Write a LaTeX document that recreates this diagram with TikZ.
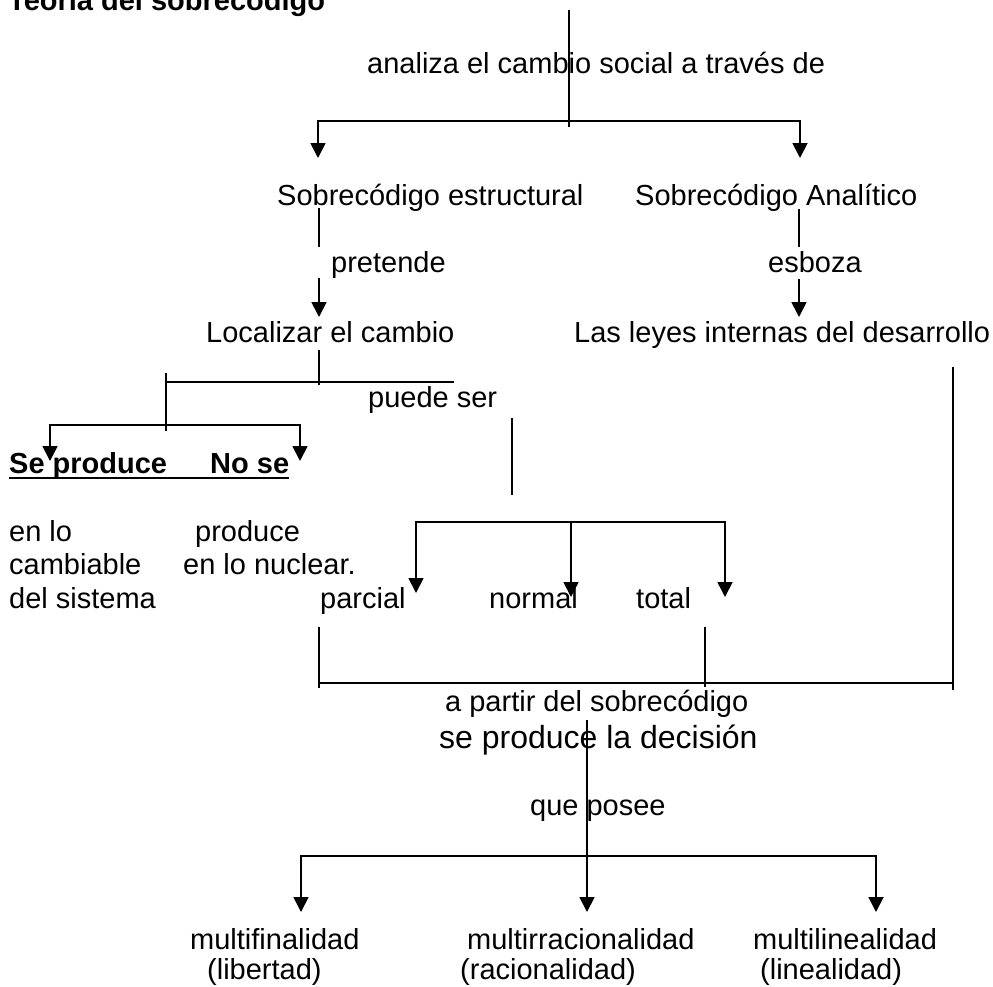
\documentclass[tikz,border=0pt]{standalone}
\usepackage{fontspec}
\setmainfont{Liberation Sans}
\usetikzlibrary{arrows.meta}
\begin{document}
\begin{tikzpicture}[x=1pt,y=-1pt,
  txt/.style={anchor=base west, inner sep=0pt, font=\fontsize{29}{34}\selectfont},
  txtb/.style={anchor=base west, inner sep=0pt, font=\bfseries\fontsize{29}{34}\selectfont},
  txtbig/.style={anchor=base west, inner sep=0pt, font=\fontsize{32}{36}\selectfont},
  ln/.style={line width=1.8pt},
  arr/.style={line width=1.8pt, -{Triangle[length=15pt,width=15pt]}}]
\useasboundingbox (0,0) rectangle (993,986);

% ---- texts ----
\node[txtb] (title) at (8,10) {Teoría del sobrecódigo};
\node[txt] (analiza) at (367,73) {analiza el cambio social a través de};
\node[txt] (sest) at (277,205) {Sobrecódigo estructural};
\node[txt] (sana) at (635,205) {Sobrecódigo Analítico};
\node[txt] (pret) at (331,272) {pretende};
\node[txt] (esb) at (768,272) {esboza};
\node[txt] (loc) at (206,342) {Localizar el cambio};
\node[txt] (leyes) at (574,342) {Las leyes internas del desarrollo};
\node[txt] (puede) at (368,407) {puede ser};
\node[txtb] (seprod) at (9,473) {\rlap{\rule[-6pt]{280pt}{2.5pt}}Se produce};
\node[txtb] (nose) at (210,473) {No se};
\node[txt] (enlo) at (9,541) {en lo};
\node[txt] (camb) at (9,574) {cambiable};
\node[txt] (delsis) at (9,608) {del sistema};
\node[txt] (produce) at (195,541) {produce};
\node[txt] (nuclear) at (183,574) {en lo nuclear.};
\node[txt] (parcial) at (320,608) {parcial};
\node[txt] (normal) at (489,608) {normal};
\node[txt] (total) at (636,608) {total};
\node[txt] (apartir) at (445,711) {a partir del sobrecódigo};
\node[txtbig] (decision) at (439,748) {se produce la decisión};
\node[txt] (posee) at (530,815) {que posee};
\node[txt] (mf) at (190,949) {multifinalidad};
\node[txt] (lib) at (207,979) {(libertad)};
\node[txt] (mr) at (467,949) {multirracionalidad};
\node[txt] (rac) at (460,979) {(racionalidad)};
\node[txt] (ml) at (753,949) {multilinealidad};
\node[txt] (lin) at (760,979) {(linealidad)};

% ---- coordinates ----
\coordinate (top0) at (569,10);
\coordinate (top1) at (569,127);
\coordinate (h1c) at (569,121);
\coordinate (h1l) at (318,158);
\coordinate (h1r) at (800,158);

\coordinate (se0) at (319,208);
\coordinate (se1) at (319,247);
\coordinate (se2) at (319,278);
\coordinate (se3) at (319,317);
\coordinate (sa0) at (799,209);
\coordinate (sa1) at (799,247);
\coordinate (sa2) at (799,279);
\coordinate (sa3) at (799,317);

\coordinate (lo0) at (319,350);
\coordinate (lo1) at (319,385);
\coordinate (h2l) at (165,382);
\coordinate (h2r) at (454,382);
\coordinate (v2a) at (166,373);
\coordinate (v2b) at (166,431);
\coordinate (h3c) at (166,425);
\coordinate (spl) at (50,461);
\coordinate (spr) at (300,461);

\coordinate (ps0) at (512,418);
\coordinate (ps1) at (512,495);
\coordinate (rv0) at (953,367);
\coordinate (rv1) at (953,690);

\coordinate (h4c) at (571,522);
\coordinate (pa) at (416,593);
\coordinate (no) at (571,597);
\coordinate (to) at (725,597);

\coordinate (pb0) at (319,627);
\coordinate (pb1) at (319,688);
\coordinate (tb0) at (705,627);
\coordinate (tb1) at (705,687);
\coordinate (h5l) at (319,683);
\coordinate (h5r) at (953,683);

\coordinate (d0) at (587,720);
\coordinate (h6c) at (587,856);
\coordinate (mfa) at (301,912);
\coordinate (mra) at (587,912);
\coordinate (mla) at (876,912);

% ---- connectors ----
\draw[ln] (top0) -- (top1);
\draw[arr] (h1c) -| (h1l);
\draw[arr] (h1c) -| (h1r);

\draw[ln] (se0) -- (se1);
\draw[arr] (se2) -- (se3);
\draw[ln] (sa0) -- (sa1);
\draw[arr] (sa2) -- (sa3);

\draw[ln] (lo0) -- (lo1);
\draw[ln] (h2l) -- (h2r);
\draw[ln] (v2a) -- (v2b);
\draw[arr] (h3c) -| (spl);
\draw[arr] (h3c) -| (spr);

\draw[ln] (ps0) -- (ps1);
\draw[ln] (rv0) -- (rv1);

\draw[arr] (h4c) -| (pa);
\draw[arr] (h4c) -- (no);
\draw[arr] (h4c) -| (to);

\draw[ln] (pb0) -- (pb1);
\draw[ln] (tb0) -- (tb1);
\draw[ln] (h5l) -- (h5r);

\draw[arr] (d0) -- (mra);
\draw[arr] (h6c) -| (mfa);
\draw[arr] (h6c) -| (mla);
\end{tikzpicture}
\end{document}
